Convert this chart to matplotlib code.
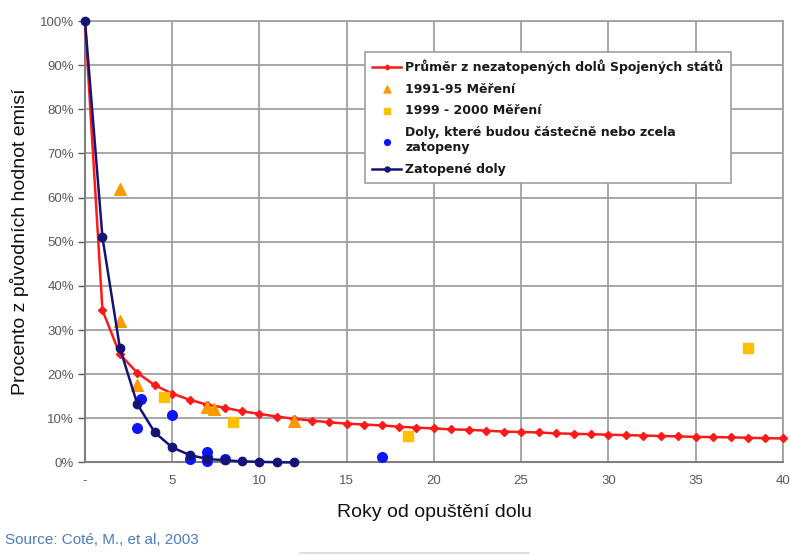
import matplotlib
matplotlib.use("Agg")
import matplotlib.pyplot as plt
from matplotlib.ticker import FixedLocator, FuncFormatter

# Average of non-flooded US mines (percent of original emissions by year)
avg_years = list(range(0, 41))
avg_pct = [100.0, 34.5, 24.5, 20.3, 17.5, 15.6, 14.2, 13.1, 12.4, 11.6,
           11.0, 10.4, 9.9, 9.5, 9.1, 8.8, 8.6, 8.4, 8.1, 7.9,
           7.7, 7.5, 7.4, 7.2, 7.0, 6.9, 6.8, 6.6, 6.5, 6.4,
           6.3, 6.2, 6.1, 6.0, 5.9, 5.8, 5.75, 5.7, 5.6, 5.5, 5.45]

# 1991-95 measurements
m9195_years = [2.0, 2.0, 3.0, 7.0, 7.4, 12.0]
m9195_pct = [62.0, 32.0, 17.6, 12.6, 12.1, 9.4]

# 1999-2000 measurements
m9900_years = [4.5, 8.5, 18.5, 38.0]
m9900_pct = [14.9, 9.1, 6.0, 25.9]

# Mines that will be partially or fully flooded
part_years = [3.0, 3.2, 5.0, 6.0, 7.0, 7.0, 7.0, 8.0, 17.0]
part_pct = [7.7, 14.3, 10.8, 0.8, 2.4, 1.3, 0.3, 0.9, 1.3]

# Flooded mines
flood_years = list(range(0, 13))
flood_pct = [100.0, 51.0, 25.9, 13.2, 6.8, 3.4, 1.7, 0.8, 0.5, 0.25, 0.15, 0.05, 0.0]

x_ticks = [0, 5, 10, 15, 20, 25, 30, 35, 40]
y_ticks = [0, 10, 20, 30, 40, 50, 60, 70, 80, 90, 100]

RED = "#FF1A1A"
NAVY = "#141478"
ORANGE = "#FF9900"
YELLOW = "#FFC000"
BLUE = "#0A14FF"
GRID = "#A0A0A0"
TICKTXT = "#595959"

plt.rcParams["font.family"] = ["Liberation Sans", "DejaVu Sans"]

fig = plt.figure(figsize=(7.9, 5.56), dpi=100)
ax = fig.add_axes([0.1076, 0.1682, 0.8834, 0.794])

ax.plot(avg_years, avg_pct, color=RED, lw=1.8, marker="D", ms=4.2,
        mfc=RED, mec=RED, zorder=3, clip_on=False,
        label="Průměr z nezatopených dolů Spojených států")
ax.scatter(m9195_years, m9195_pct, marker="^", s=70, color=ORANGE,
           zorder=4, clip_on=False, label="1991-95 Měření")
ax.scatter(m9900_years, m9900_pct, marker="s", s=42, color=YELLOW,
           zorder=4, clip_on=False, label="1999 - 2000 Měření")
ax.scatter(part_years, part_pct, marker="o", s=48, color=BLUE,
           zorder=5, clip_on=False,
           label="Doly, které budou částečně nebo zcela\nzatopeny")
ax.plot(flood_years, flood_pct, color=NAVY, lw=1.8, marker="o", ms=6,
        mfc=NAVY, mec=NAVY, zorder=6, clip_on=False, label="Zatopené doly")

ax.set_xlim(0, 40)
ax.set_ylim(0, 100)
ax.xaxis.set_major_locator(FixedLocator(x_ticks))
ax.yaxis.set_major_locator(FixedLocator(y_ticks))
ax.xaxis.set_major_formatter(FuncFormatter(lambda v, p: "-" if v == 0 else f"{int(v)}"))
ax.yaxis.set_major_formatter(FuncFormatter(lambda v, p: f"{int(v)}%"))

ax.grid(True, color=GRID, lw=1.3)
ax.set_axisbelow(True)
for side in ["top", "right"]:
    ax.spines[side].set_color(GRID)
    ax.spines[side].set_linewidth(1.3)
for side in ["left", "bottom"]:
    ax.spines[side].set_color("#7F7F7F")
    ax.spines[side].set_linewidth(1.5)

ax.tick_params(axis="y", colors=TICKTXT, labelsize=9.5, length=5, width=1, pad=3)
ax.tick_params(axis="x", colors=TICKTXT, labelsize=9.5, length=0, pad=9)
for lbl in ax.get_xticklabels() + ax.get_yticklabels():
    lbl.set_color(TICKTXT)

ax.set_xlabel("Roky od opuštění dolu", fontsize=14, color="#111111", labelpad=12)
ax.set_ylabel("Procento z původních hodnot emisí", fontsize=14, color="#111111", labelpad=8)

leg = ax.legend(loc="upper left", bbox_to_anchor=(0.401, 0.93), borderaxespad=0,
                frameon=True, fancybox=False, edgecolor="#A0A0A0", framealpha=1,
                prop={"family": "DejaVu Sans", "size": 9.0, "weight": "bold"},
                handlelength=2.3, labelspacing=0.7, borderpad=0.6,
                handletextpad=0.35, markerscale=0.6)
leg.get_frame().set_linewidth(1.2)
for t in leg.get_texts():
    t.set_color("#1A1A1A")

fig.text(0.006, 0.017, "Source: Coté, M., et al, 2003", fontsize=11,
         color="#4A7EBB", ha="left", va="bottom")
fig.add_artist(plt.Line2D([0.38, 0.67], [0.006, 0.006], color="#D9D9D9",
                          lw=1.2, transform=fig.transFigure))

fig.savefig("out.png", dpi=100)
